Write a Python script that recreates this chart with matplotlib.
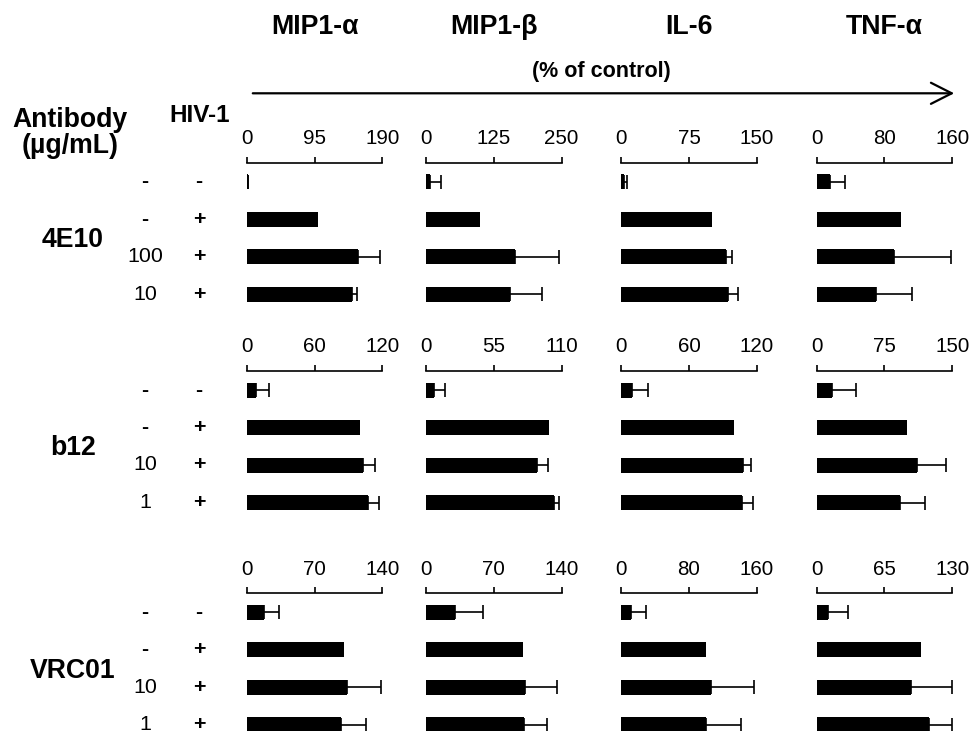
import matplotlib.pyplot as plt
from matplotlib.patches import FancyArrowPatch

plt.rcParams['font.family'] = ['Liberation Sans', 'DejaVu Sans']

cytokines = ['MIP1-α', 'MIP1-β', 'IL-6', 'TNF-α']
antibodies = ['4E10', 'b12', 'VRC01']
doses = [['-', '-', '100', '10'],
         ['-', '-', '10', '1'],
         ['-', '-', '10', '1']]
hiv = ['-', '+', '+', '+']

# axis maximum for each antibody block / cytokine
axis_max = [[190, 250, 150, 160],
            [120, 110, 120, 150],
            [140, 140, 160, 130]]

# % of control, rows: (-,-), (-,+), (dose 1,+), (dose 2,+)
means_4e10 = [[1.5, 100, 156, 147],
              [7.5, 100, 164, 155],
              [2.5, 100, 115.5, 118],
              [16, 100, 91, 70]]
errs_4e10 = [[0.5, 0, 31, 7.5],
             [19.5, 0, 82, 59],
             [3.5, 0, 7, 11],
             [18, 0, 67, 42]]
means_b12 = [[7.7, 100, 102.5, 107.5],
             [6.5, 100, 90.3, 104.3],
             [9.7, 100, 108, 107],
             [17, 100, 111.5, 92]]
errs_b12 = [[11.7, 0, 11, 9],
            [9, 0, 8.4, 3.3],
            [14, 0, 6.7, 9.2],
            [26, 0, 32, 28]]
means_vrc01 = [[17.5, 100, 103.3, 97],
               [30, 100, 102.6, 101],
               [11.5, 100, 106.4, 100.4],
               [11, 100, 90.5, 107.5]]
errs_vrc01 = [[16, 0, 35.4, 26],
              [29, 0, 33, 24],
              [18, 0, 50.6, 41],
              [19, 0, 39, 22]]

means = [means_4e10, means_b12, means_vrc01]
errs = [errs_4e10, errs_b12, errs_vrc01]

W, H = 973, 731
fig = plt.figure(figsize=(W / 100, H / 100), dpi=100)


def fx(x):
    return x / W


def fy(y):
    return 1 - y / H


# layout in pixels
panel_left = [247, 426, 621.3, 816.7]
panel_width = 135.5
block_top = [162.7, 371, 593.3]
row_step = 37.5
first_row = 19.0
panel_height = 150.0
ylim = (panel_height - first_row) / row_step, -first_row / row_step

for g in range(len(antibodies)):
    for c in range(len(cytokines)):
        ax = fig.add_axes([fx(panel_left[c]), fy(block_top[g] + panel_height),
                           panel_width / W, panel_height / H])
        ax.set_facecolor('none')
        m = means[g][c]
        e = errs[g][c]
        rows = list(range(len(m)))
        ax.barh(rows, m, height=15 / row_step, color='black')
        er = [r for r in rows if e[r] > 0]
        ax.errorbar([m[r] for r in er], er, xerr=[[0] * len(er), [e[r] for r in er]],
                    fmt='none', ecolor='black', elinewidth=1.2, capsize=5, capthick=1.2)
        top = axis_max[g][c]
        ax.set_xlim(0, top)
        ax.set_ylim(*ylim)
        ax.set_xticks([0, top / 2, top])
        ax.set_xticklabels(['0', f'{top / 2:g}', f'{top}'])
        ax.xaxis.tick_top()
        ax.tick_params(axis='x', direction='out', length=4.5, width=1.2,
                       labelsize=14.8, pad=6)
        ax.set_yticks([])
        for s in ['left', 'right', 'bottom']:
            ax.spines[s].set_visible(False)
        ax.spines['top'].set_linewidth(1.2)
        if g == 0:
            fig.text(fx(panel_left[c] + panel_width / 2), fy(27), cytokines[c],
                     ha='center', va='center', fontsize=19.3, fontweight='bold')

        if c == 0:
            for r in rows:
                y = block_top[g] + first_row + r * row_step
                d = doses[g][r]
                fig.text(fx(145), fy(y), d, ha='center', va='center', fontsize=15.4,
                         fontweight='bold' if d == '-' else 'normal')
                fig.text(fx(199), fy(y), hiv[r], ha='center', va='center',
                         fontsize=15.4, fontweight='bold')
            ymid = block_top[g] + first_row + 1.5 * row_step
            fig.text(fx(73), fy(ymid + 2), antibodies[g], ha='center', va='center',
                     fontsize=19.2, fontweight='bold')

fig.text(fx(70), fy(133), 'Antibody\n(µg/mL)', ha='center', va='center',
         fontsize=19.2, fontweight='bold', linespacing=1.0)
fig.text(fx(200), fy(116), 'HIV-1', ha='center', va='center',
         fontsize=17.5, fontweight='bold')
fig.text(fx(601), fy(72), '(% of control)', ha='center', va='center',
         fontsize=15.5, fontweight='bold')

arrow = FancyArrowPatch((fx(250), fy(93.3)), (fx(957), fy(93.3)),
                        transform=fig.transFigure,
                        arrowstyle='->,head_length=0.75,head_width=0.38',
                        mutation_scale=20, linewidth=1.6, color='black')
fig.add_artist(arrow)

fig.savefig('out.png', dpi=100)
